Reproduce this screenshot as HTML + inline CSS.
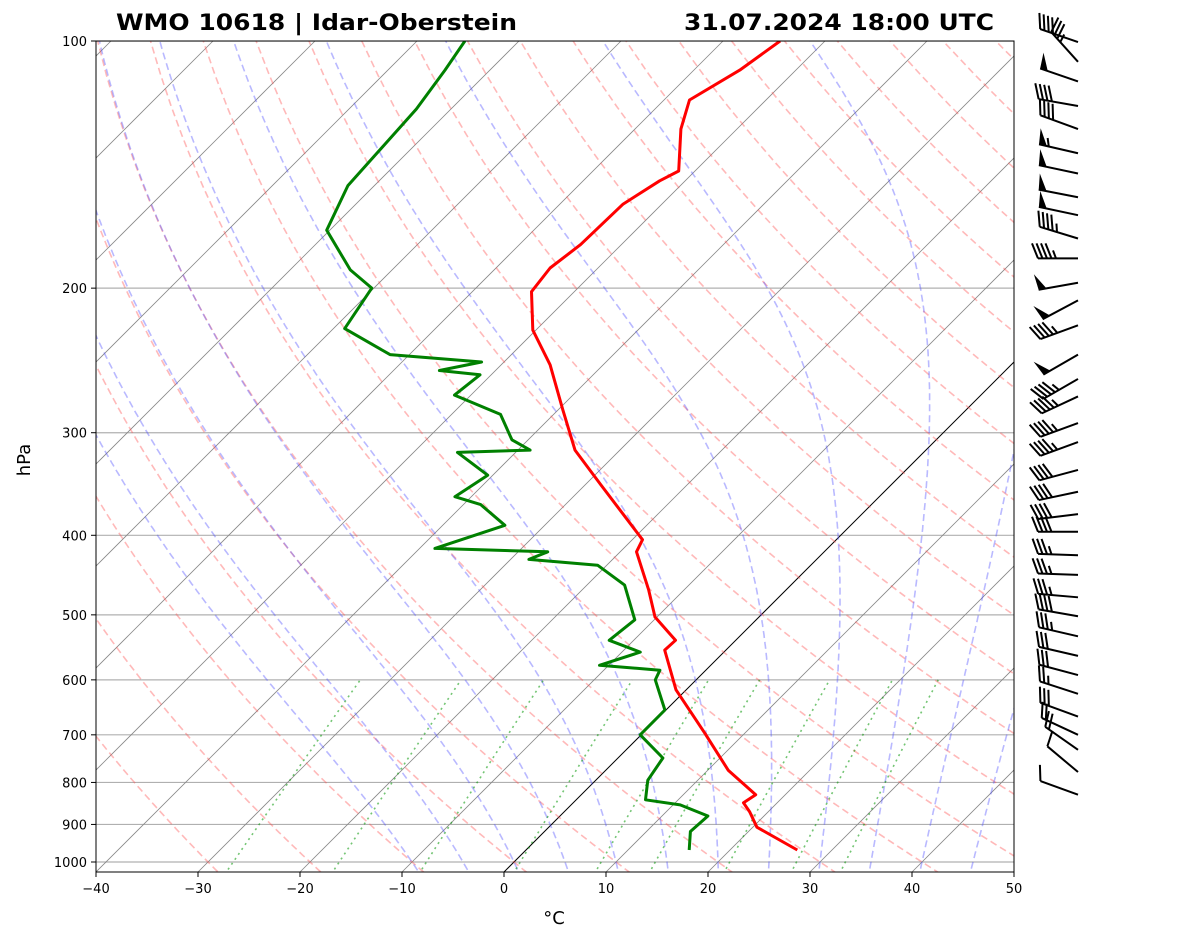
<!DOCTYPE html>
<html><head><meta charset="utf-8"><style>
html,body{margin:0;padding:0;background:#fff;}
svg{display:block;font-family:"DejaVu Sans","Liberation Sans",sans-serif;}
</style></head><body>
<svg id="c" width="1181" height="941" xmlns="http://www.w3.org/2000/svg">
<defs><clipPath id="clip"><rect x="96" y="41" width="918" height="831"/></clipPath></defs>
<g id="bg" clip-path="url(#clip)"></g>
<g id="fg"></g>
<text x="116" y="30" font-size="22" font-weight="bold" textLength="401" lengthAdjust="spacingAndGlyphs">WMO 10618 | Idar-Oberstein</text>
<text x="684" y="30" font-size="22" font-weight="bold" textLength="310" lengthAdjust="spacingAndGlyphs">31.07.2024 18:00 UTC</text>
<text x="30" y="460" font-size="18" text-anchor="middle" transform="rotate(-90 30 460)">hPa</text>
<text x="554" y="924" font-size="18" text-anchor="middle">°C</text>
</svg>
<script>
const tempP=[967,907,869,847,828,773,697,617,552,537,503,466,419,405,347,315,281,248,225,202,189,177,158,148,144,128,118,108.5,100];
const tempT=[26.6,20.4,18.2,16.7,17.1,12.0,6.1,-1.0,-6.0,-5.9,-10.2,-13.5,-18.4,-19.0,-28.5,-34.4,-39.6,-45.2,-50.3,-54.2,-54.7,-54.0,-53.8,-52.5,-51.6,-55.5,-57.5,-55.5,-54.4];
const dewP=[967,918,879,852,840,795,747,700,653,600,584,576,555,537,507,460,435,428,419,415,389,367,359,338,317,315,306,285,270,255,252,246,241,224,200,190,170,150,138,121,108.5,100];
const dewT=[16.0,14.3,14.5,10.7,6.8,5.1,4.4,-0.1,-0.1,-4.0,-4.5,-10.9,-8.2,-12.4,-11.9,-16.3,-20.9,-28.2,-27.1,-38.5,-33.9,-38.3,-41.6,-40.5,-45.7,-38.8,-41.6,-45.2,-51.6,-51.1,-55.5,-52.2,-61.9,-68.9,-70.2,-74.1,-80.3,-82.6,-82.9,-83.4,-84.4,-85.3];
const windP=[100.3,106,112,120,128,137,145,155,163,174,184,197,207,222,241,258,271,292,308,333,354,377,396,423,447,476,502,531,561,592,624,665,700,730,777,828];
const windDir=[289,318,289,280,290,283,282,281,282,287,270,260,242,250,240,240,245,250,250,255,258,263,270,272,272,275,280,283,283,285,288,290,295,305,310,290];
const windSpd=[40,35,50,40,40,55,50,50,50,45,45,50,50,45,50,45,45,45,45,40,40,40,40,35,35,35,40,35,30,30,25,30,20,20,10,10];
const xTicks=[-40,-30,-20,-10,0,10,20,30,40,50];
const pTicks=[100,200,300,400,500,600,700,800,900,1000];

const NS="http://www.w3.org/2000/svg";
const X0=504,PX=10.2,YB=872;
function yP(p){return 41+Math.log10(p/100)*821;}
function xTP(T,p){return X0+T*PX+(YB-yP(p));}
const bg=document.getElementById('bg'),fg=document.getElementById('fg');
function el(tag,attrs,parent){const e=document.createElementNS(NS,tag);for(const k in attrs)e.setAttribute(k,attrs[k]);parent.appendChild(e);return e;}
function poly(pts,style,parent,name){const d=pts.map((q,i)=>(i?'L':'M')+q[0].toFixed(1)+' '+q[1].toFixed(1)).join('');const e=el('path',Object.assign({d:d,fill:'none'},style),parent);


return e;}
const levels=[];for(let p=1050;p>=100;p-=10)levels.push(p);
pTicks.forEach(p=>{const y=yP(p);const l=el('line',{x1:96,x2:1014,y1:y,y2:y,stroke:'#b0b0b0','stroke-width':1.2},bg);

});
for(let T=-130;T<=50;T+=10){poly([[xTP(T,1050),yP(1050)],[xTP(T,100),yP(100)]],{stroke:T===0?'#000':'#888','stroke-width':T===0?1:0.8},bg,'isotherm');}
for(let th=-30;th<=200;th+=10){const K=th+273.15;poly(levels.map(p=>[xTP(K*Math.pow(p/1000,0.2857)-273.15,p),yP(p)]),{stroke:'rgba(255,80,80,0.4)','stroke-width':1.6,'stroke-dasharray':'7,4'},bg,'dry-adiabat');}
function es(T){return 6.112*Math.exp(17.67*T/(T+243.5));}
function dTdp(p,T){const K=T+273.15,rs=0.622*es(T)/(p-es(T)),Rd=287,Lv=2.5e6,Cp=1005;return (Rd*K+Lv*rs)/(p*(Cp+Lv*Lv*rs*0.622/(Rd*K*K)));}
for(let T0=-10;T0<=50;T0+=5){let pts=[];let T=T0,p=1000;
 let Tb=T0;for(let q=1000;q<1050;q+=2){Tb+=dTdp(q,Tb)*2;}pts.push([xTP(Tb,1050),yP(1050)]);
 pts.push([xTP(T,p),yP(p)]);
 while(p>100){const h=2;T-=dTdp(p,T)*h;p-=h;pts.push([xTP(T,p),yP(p)]);}
 poly(pts,{stroke:'rgba(80,80,255,0.4)','stroke-width':1.6,'stroke-dasharray':'7,4'},bg,'moist-adiabat');}
[0.0004,0.001,0.002,0.004,0.007,0.01,0.016,0.024,0.032].forEach(w=>{const pts=[];for(let p=1050;p>=600;p-=10){const e=w*p/(0.622+w);const a=Math.log(e/6.112);pts.push([xTP(243.5*a/(17.67-a),p),yP(p)]);}
poly(pts,{stroke:'rgba(0,150,0,0.55)','stroke-width':1.6,'stroke-dasharray':'2,4'},bg,'mixing-ratio-line');});
poly(dewP.map((p,i)=>[xTP(dewT[i],p),yP(p)]),{stroke:'#008000','stroke-width':3,'stroke-linejoin':'round'},bg,'dewpoint-profile');
poly(tempP.map((p,i)=>[xTP(tempT[i],p),yP(p)]),{stroke:'#ff0000','stroke-width':3,'stroke-linejoin':'round'},bg,'temperature-profile');
const fr=el('rect',{x:96,y:41,width:918,height:831,fill:'none',stroke:'#000','stroke-width':1},fg);


xTicks.forEach(T=>{const x=X0+T*PX;el('line',{x1:x,x2:x,y1:872,y2:877,stroke:'#000'},fg);const t=el('text',{x:x,y:893,'font-size':13,'text-anchor':'middle'},fg);t.textContent=(T<0?'\u2212'+(-T):T);

});
pTicks.forEach(p=>{const y=yP(p);el('line',{x1:91,x2:96,y1:y,y2:y,stroke:'#000'},fg);const t=el('text',{x:87,y:y+5,'font-size':13,'text-anchor':'end'},fg);t.textContent=p;

});
windP.forEach((p,i)=>{const g=el('g',{},fg);


const ox=1078,oy=yP(p),L=40;const a=windDir[i]*Math.PI/180;
const dirx=Math.sin(a),diry=-Math.cos(a);
el('line',{x1:ox,y1:oy,x2:ox+dirx*L,y2:oy+diry*L,stroke:'#000','stroke-width':2},g);
let px=-diry,py=dirx; if(py>0){px=-px;py=-py;}
let s=windSpd[i],pos=0;const bx=q=>ox+dirx*(L-q),by=q=>oy+diry*(L-q);
while(s>=50){el('polygon',{points:`${bx(pos)},${by(pos)} ${bx(pos)+px*16+dirx*2},${by(pos)+py*16+diry*2} ${bx(pos+8)},${by(pos+8)}`,fill:'#000'},g);pos+=10;s-=50;}
while(s>=10){el('line',{x1:bx(pos),y1:by(pos),x2:bx(pos)+px*15+dirx*6,y2:by(pos)+py*15+diry*6,stroke:'#000','stroke-width':2},g);pos+=4.5;s-=10;}
if(s>=5){if(pos===0)pos=5;el('line',{x1:bx(pos),y1:by(pos),x2:bx(pos)+px*8+dirx*3,y2:by(pos)+py*8+diry*3,stroke:'#000','stroke-width':2},g);}
});
</script>
</body></html>
